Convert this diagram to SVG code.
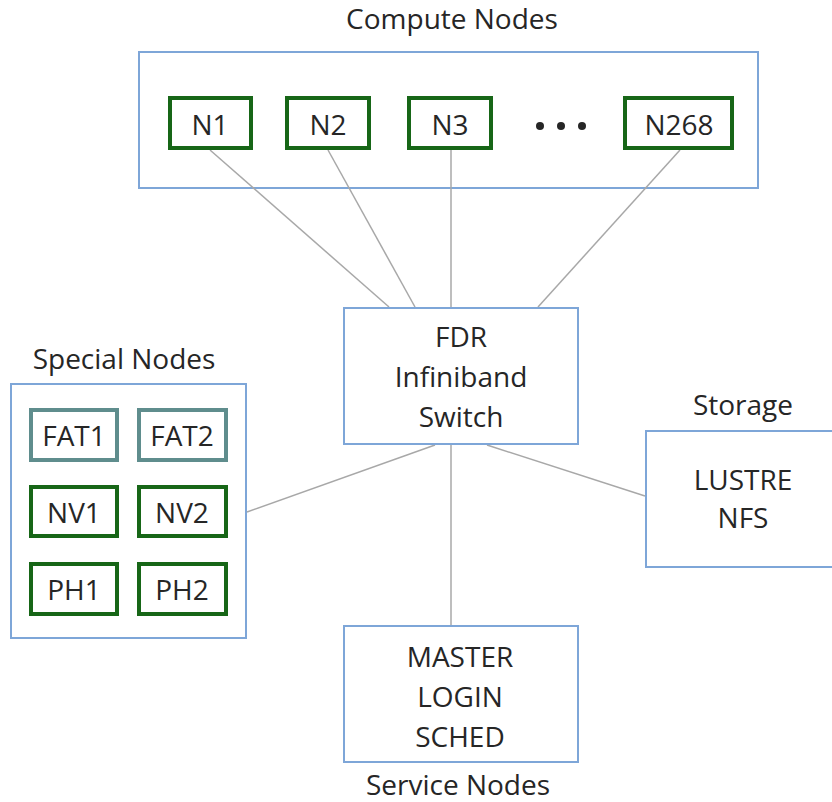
<svg xmlns="http://www.w3.org/2000/svg" width="832" height="802" viewBox="0 0 832 802">
<style>
text{font-family:"Open Sans","Liberation Sans",sans-serif;font-size:28px;fill:#262626;text-anchor:middle}
.container{fill:#fff;stroke:#7ea6d8;stroke-width:2}
.node{fill:#fff;stroke:#176617;stroke-width:4}
.fat{fill:#fff;stroke:#5f8d8d;stroke-width:4}
.conn{stroke:#a8a8a8;stroke-width:1.5;fill:none}
</style>
<rect width="832" height="802" fill="#fff"/>
<g id="compute-nodes">
<rect class="container" x="139" y="52" width="619" height="136"/>
<text x="452" y="29">Compute Nodes</text>
<g fill="#262626"><circle cx="540" cy="126" r="4"/><circle cx="561" cy="126" r="4"/><circle cx="582" cy="126" r="4"/></g>
</g>
<g id="special-nodes">
<rect class="container" x="11" y="384" width="235" height="254"/>
<text x="124" y="369">Special Nodes</text>
</g>
<g id="storage">
<rect class="container" x="646" y="431" width="200" height="136"/>
<text x="743" y="415">Storage</text>
<text x="743" y="490">LUSTRE</text>
<text x="743" y="528">NFS</text>
</g>
<g id="connectors">
<line class="conn" x1="210" y1="150" x2="389" y2="307"/>
<line class="conn" x1="328" y1="150" x2="415" y2="307"/>
<line class="conn" x1="451" y1="150" x2="451" y2="307"/>
<line class="conn" x1="680" y1="150" x2="538" y2="307"/>
<line class="conn" x1="435" y1="445" x2="247" y2="512"/>
<line class="conn" x1="451" y1="445" x2="451" y2="625"/>
<line class="conn" x1="487" y1="445" x2="645" y2="496"/>
</g>
<g id="n1"><rect class="node" x="170" y="98" width="81" height="50"/><text x="210" y="135">N1</text></g>
<g id="n2"><rect class="node" x="287" y="98" width="82" height="50"/><text x="328" y="135">N2</text></g>
<g id="n3"><rect class="node" x="409" y="98" width="82" height="50"/><text x="450" y="135">N3</text></g>
<g id="n268"><rect class="node" x="625" y="98" width="107" height="50"/><text x="679" y="135">N268</text></g>
<g id="switch">
<rect class="container" x="344" y="308" width="234" height="136"/>
<text x="461" y="347">FDR</text>
<text x="461" y="387">Infiniband</text>
<text x="461" y="427">Switch</text>
</g>
<g id="fat1"><rect class="fat" x="31" y="410" width="86" height="50"/><text x="74" y="446">FAT1</text></g>
<g id="fat2"><rect class="fat" x="139" y="410" width="87" height="50"/><text x="182" y="446">FAT2</text></g>
<g id="nv1"><rect class="node" x="31" y="487" width="86" height="49"/><text x="74" y="523">NV1</text></g>
<g id="nv2"><rect class="node" x="139" y="487" width="87" height="49"/><text x="182" y="523">NV2</text></g>
<g id="ph1"><rect class="node" x="31" y="564" width="86" height="50"/><text x="74" y="600">PH1</text></g>
<g id="ph2"><rect class="node" x="139" y="564" width="87" height="50"/><text x="182" y="600">PH2</text></g>
<g id="service-nodes">
<rect class="container" x="344" y="626" width="234" height="136"/>
<text x="460" y="667">MASTER</text>
<text x="460" y="707">LOGIN</text>
<text x="460" y="747">SCHED</text>
<text x="458" y="795">Service Nodes</text>
</g>
</svg>
